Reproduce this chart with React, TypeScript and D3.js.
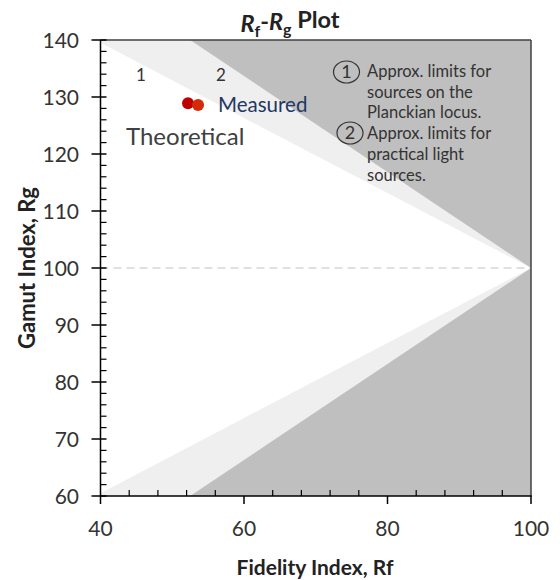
import React from "react";
import * as d3 from "d3";

const xTicks = [40, 60, 80, 100];
const yTicks = [60, 70, 80, 90, 100, 110, 120, 130, 140];
const xMinor = [44, 48, 52, 56, 64, 68, 72, 76, 84, 88, 92, 96];
const yMinor = [62, 64, 66, 68, 72, 74, 76, 78, 82, 84, 86, 88, 92, 94, 96, 98, 102, 104, 106, 108, 112, 114, 116, 118, 122, 124, 126, 128, 132, 134, 136, 138];
// region boundaries (Rf, Rg)
const practicalLimit: [number, number][] = [[40, 140], [52.5, 140], [100, 100], [52.5, 60], [40, 60]];
const planckianLimit: [number, number][] = [[40, 139.5], [100, 100], [40, 60.5]];
const pointRf = [52.2, 53.6];
const pointRg = [128.9, 128.6];
const pointColors = ["#c00000", "#d42a0a"];
const noteLines1 = ["Approx. limits for", "sources on the", "Planckian locus."];
const noteLines2 = ["Approx. limits for", "practical light", "sources."];

const W = 560, H = 580;
const L = 100.5, R = 531, T = 40, B = 496;
const FONT = "Lato, 'Open Sans', sans-serif";

export default function App() {
  const x = d3.scaleLinear().domain([40, 100]).range([L, R]);
  const y = d3.scaleLinear().domain([60, 140]).range([B, T]);
  const line = d3.line<[number, number]>().x(d => x(d[0])).y(d => y(d[1]));
  const poly = (p: [number, number][]) => line(p) + "Z";

  return (
    <svg width={W} height={H} style={{ position: "absolute", left: 0, top: 0 }} fontFamily={FONT}>
      <rect x={0} y={0} width={W} height={H} fill="#fff" />
      {/* regions */}
      <rect x={L} y={T} width={R - L} height={B - T} fill="#bfbfbf" />
      <path d={poly(practicalLimit)} fill="#efefef" />
      <path d={poly(planckianLimit)} fill="#ffffff" />
      {/* dashed 100 line */}
      <line x1={L} x2={R} y1={y(100)} y2={y(100)} stroke="#d6d6d6" strokeWidth={1.5} strokeDasharray="8,5" />
      {/* frame */}
      <line x1={L} x2={R} y1={T} y2={T} stroke="#404040" strokeWidth={1.5} />
      <line x1={R} x2={R} y1={T} y2={B} stroke="#404040" strokeWidth={1.5} />
      <line x1={L} x2={R + 0.75} y1={B} y2={B} stroke="#000" strokeWidth={1.5} />
      <line x1={L} x2={L} y1={T} y2={B} stroke="#000" strokeWidth={1.5} />
      {/* y ticks */}
      {yTicks.map(t => (
        <g key={"y" + t}>
          <line x1={L - 9} x2={L + 6} y1={y(t)} y2={y(t)} stroke="#000" strokeWidth={1.5} />
          <text x={79} y={y(t)} dy="0.36em" textAnchor="end" fontSize={21} fill="#333">{t}</text>
        </g>
      ))}
      {yMinor.map(t => (
        <line key={"ym" + t} x1={L} x2={L + 6} y1={y(t)} y2={y(t)} stroke="#000" strokeWidth={1.2} />
      ))}
      {/* x ticks */}
      {xTicks.map(t => (
        <g key={"x" + t}>
          <line x1={x(t)} x2={x(t)} y1={B} y2={B + 8} stroke="#000" strokeWidth={1.5} />
          <text x={x(t)} y={528} dy="0.36em" textAnchor="middle" fontSize={21} fill="#333">{t}</text>
        </g>
      ))}
      {xMinor.map(t => (
        <line key={"xm" + t} x1={x(t)} x2={x(t)} y1={B} y2={B - 6} stroke="#000" strokeWidth={1.2} />
      ))}
      {/* axis titles */}
      <text x={315} y={567} dy="0.36em" textAnchor="middle" fontSize={21} fontWeight="bold" fill="#222">Fidelity Index, Rf</text>
      <text transform={`translate(27,${y(100)}) rotate(-90)`} dy="0.36em" textAnchor="middle" fontSize={22} fontWeight="bold" fill="#222">Gamut Index, Rg</text>
      {/* title */}
      <text x={290} y={24} dy="0.36em" textAnchor="middle" fontSize={23.5} fontWeight="bold" fill="#222">
        <tspan fontStyle="italic">R</tspan>
        <tspan fontSize={16} dy="0.3em">f</tspan>
        <tspan dy="-0.3em">-</tspan>
        <tspan fontStyle="italic">R</tspan>
        <tspan fontSize={16} dy="0.3em">g</tspan>
        <tspan dy="-0.3em"> Plot</tspan>
      </text>
      {/* region labels */}
      <text x={141} y={75} dy="0.36em" textAnchor="middle" fontSize={17} fill="#333">1</text>
      <text x={221} y={75} dy="0.36em" textAnchor="middle" fontSize={17} fill="#333">2</text>
      {/* notes */}
      <ellipse cx={346.5} cy={72} rx={13} ry={11} fill="none" stroke="#333" strokeWidth={1.2} />
      <text x={346.5} y={72} dy="0.36em" textAnchor="middle" fontSize={18} fill="#333">1</text>
      {noteLines1.map((s, i) => (
        <text key={"n1" + i} x={367} y={77 + i * 20.5} fontSize={16.5} fill="#333">{s}</text>
      ))}
      <ellipse cx={350} cy={133} rx={13} ry={11} fill="none" stroke="#333" strokeWidth={1.2} />
      <text x={350} y={133} dy="0.36em" textAnchor="middle" fontSize={18} fill="#333">2</text>
      {noteLines2.map((s, i) => (
        <text key={"n2" + i} x={367} y={138.5 + i * 21} fontSize={16.5} fill="#333">{s}</text>
      ))}
      {/* points */}
      {pointRf.map((v, i) => (
        <circle key={"p" + i} cx={x(v)} cy={y(pointRg[i])} r={6} fill={pointColors[i]} />
      ))}
      <text x={218} y={105} dy="0.36em" fontSize={20.5} fill="#1f3864">Measured</text>
      <text x={126} y={136} dy="0.36em" fontSize={24} fill="#404040">Theoretical</text>
    </svg>
  );
}
